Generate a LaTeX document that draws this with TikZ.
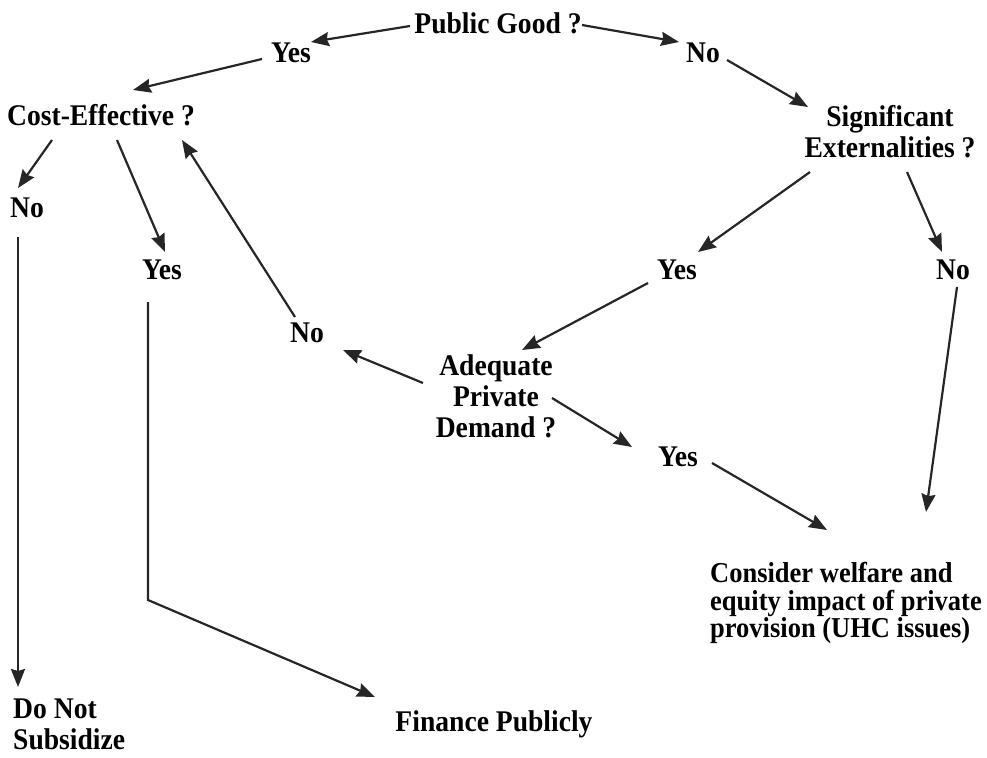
\documentclass[tikz,border=0pt]{standalone}
\usepackage{fontspec}
\setmainfont{Liberation Serif}[FakeStretch=0.92]
\usetikzlibrary{arrows.meta,calc}

\begin{document}
\begin{tikzpicture}[x=1pt, y=-1pt, >={Stealth[length=18pt,width=14pt,inset=2pt]},
    lbl/.style={font=\bfseries\fontsize{30}{31}\selectfont, inner sep=0pt},
    arr/.style={->, line width=2.2pt, black!85}]
    \useasboundingbox (0,0) rectangle (987,757);

    % Domande e risposte
    \node[lbl] (pg) at (498,23) {Public Good ?};
    \node[lbl] (yes1) at (291,53) {Yes};
    \node[lbl] (no1) at (703,53) {No};
    \node[lbl] (ce) at (101,115) {Cost-Effective ?};
    \node[lbl, align=center] (se) at (890,132) {Significant\\Externalities ?};
    \node[lbl] (no2) at (27,208) {No};
    \node[lbl] (yes2) at (162,270) {Yes};
    \node[lbl] (yes3) at (677,270) {Yes};
    \node[lbl] (no3) at (953,270) {No};
    \node[lbl] (no4) at (307,333) {No};
    \node[lbl, align=center] (apd) at (496,396) {Adequate\\Private\\Demand ?};
    \node[lbl] (yes4) at (678,457) {Yes};

    % Esiti
    \node[lbl, align=left, anchor=west, font=\bfseries\fontsize{28.8}{27.5}\selectfont] (cw) at (710,603)
        {Consider welfare and\\equity impact of private\\provision (UHC issues)};
    \node[lbl, align=left, anchor=west, font=\bfseries\fontsize{30}{31}\selectfont] (dns) at (13,724) {Do Not\\Subsidize};
    \node[lbl] (fp) at (494,724) {Finance Publicly};

    % Frecce
    \draw[arr] ($(pg)+(-88,3)$) -- ($(yes1)+(20,-11)$);
    \draw[arr] ($(yes1)+(-29,6)$) -- ($(ce)+(32,-25)$);
    \draw[arr] ($(pg)+(84,2)$) -- ($(no1)+(-24,-11)$);
    \draw[arr] ($(no1)+(24,7)$) -- ($(se)+(-82,-25)$);
    \draw[arr] ($(ce)+(-49,25)$) -- ($(no2)+(-9,-20)$);
    \draw[arr] ($(ce)+(16,25)$) -- ($(yes2)+(3,-18)$);
    \draw[arr] ($(no4)+(-12,-16)$) -- ($(ce)+(81,25)$);
    \draw[arr] ($(se)+(-80,40)$) -- ($(yes3)+(21,-18)$);
    \draw[arr] ($(se)+(17,40)$) -- ($(no3)+(-11,-18)$);
    \draw[arr] ($(yes3)+(-29,13)$) -- ($(apd)+(26,-46)$);
    \draw[arr] ($(apd)+(-73,-13)$) -- ($(no4)+(36,17)$);
    \draw[arr] ($(apd)+(56,2)$) -- ($(yes4)+(-46,-10)$);
    \draw[arr] ($(yes4)+(34,6)$) -- ($(cw.west)+(117,-73)$);
    \draw[arr] ($(no3)+(4,17)$) -- ($(cw.west)+(216,-91)$);
    \draw[arr] ($(no2)+(-9,29)$) -- ($(dns.west)+(5,-37)$);
    \draw[arr] ($(yes2)+(-14,32)$) -- ++(0,298) -- ($(fp)+(-119,-27)$);
\end{tikzpicture}
\end{document}
